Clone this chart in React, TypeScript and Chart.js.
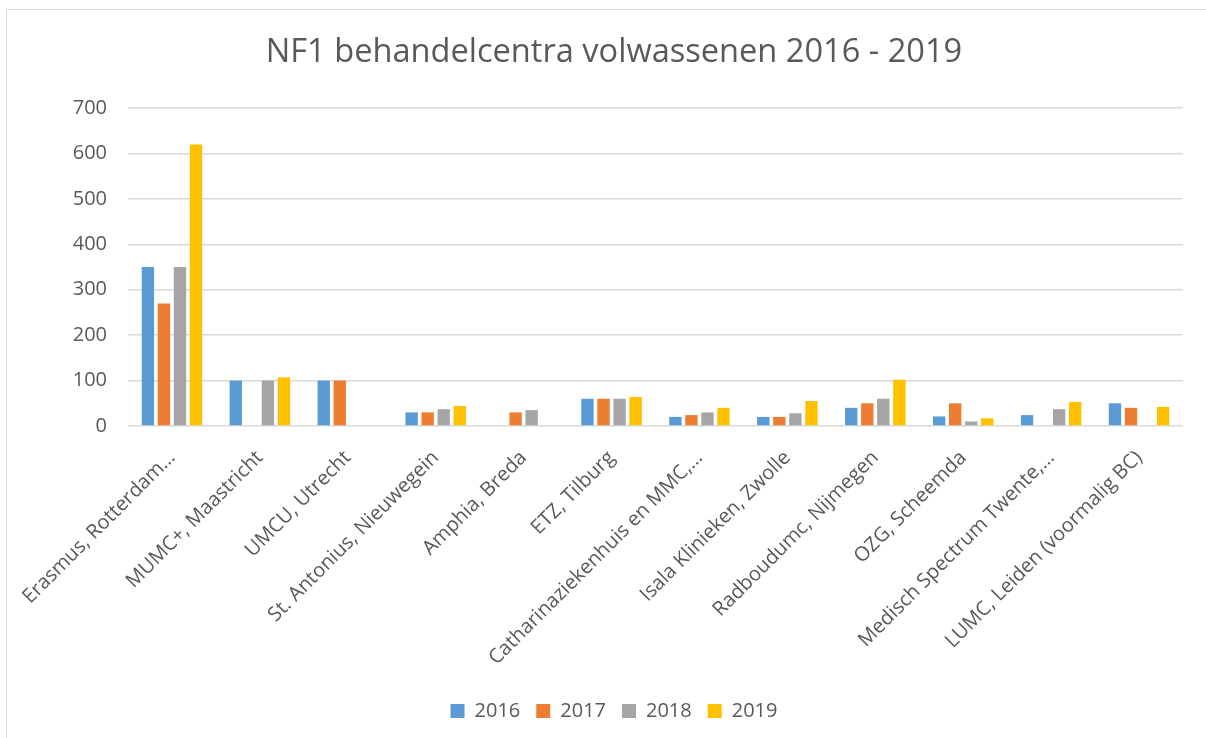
import React, { useEffect, useRef } from "react";
import { Chart, registerables } from "chart.js";

Chart.register(...registerables);

const chartTitle = "NF1 behandelcentra volwassenen 2016 - 2019";

const categories = [
  "Erasmus, Rotterdam…",
  "MUMC+, Maastricht",
  "UMCU, Utrecht",
  "St. Antonius, Nieuwegein",
  "Amphia, Breda",
  "ETZ, Tilburg",
  "Catharinaziekenhuis en MMC,…",
  "Isala Klinieken, Zwolle",
  "Radboudumc, Nijmegen",
  "OZG, Scheemda",
  "Medisch Spectrum Twente,…",
  "LUMC, Leiden (voormalig BC)",
];

const seriesNames = ["2016", "2017", "2018", "2019"];

const values2016 = [350, 100, 100, 30, null, 60, 20, 20, 40, 21, 24, 50];
const values2017 = [270, null, 100, 30, 30, 60, 24, 20, 50, 50, null, 40];
const values2018 = [350, 100, null, 37, 35, 60, 30, 28, 60, 10, 37, null];
const values2019 = [620, 107, null, 44, null, 64, 40, 55, 102, 17, 53, 42];

const seriesColors = ["#5B9BD5", "#ED7D31", "#A5A5A5", "#FFC000"];

const yTicks = [0, 100, 200, 300, 400, 500, 600, 700];

const FONT = '"Open Sans", "DejaVu Sans", sans-serif';
const TEXT = "#595959";
const GRID = "#D9D9D9";

export default function App() {
  const ref = useRef<HTMLCanvasElement | null>(null);

  useEffect(() => {
    if (!ref.current) return;
    const seriesValues = [values2016, values2017, values2018, values2019];
    const chart = new Chart(ref.current, {
      type: "bar",
      data: {
        labels: categories,
        datasets: seriesNames.map((name, i) => ({
          label: name,
          data: seriesValues[i],
          backgroundColor: seriesColors[i],
          borderWidth: 0,
          categoryPercentage: 0.73,
          barPercentage: 0.77,
        })),
      },
      options: {
        animation: false,
        responsive: false,
        maintainAspectRatio: false,
        layout: { padding: { left: 45, right: 23, top: 0, bottom: 7 } },
        plugins: {
          title: {
            display: true,
            text: chartTitle,
            color: TEXT,
            font: { family: FONT, size: 32.6, weight: "normal" },
            padding: { top: 33, bottom: 36 },
          },
          legend: {
            display: true,
            position: "bottom",
            labels: {
              color: TEXT,
              font: { family: FONT, size: 20 },
              boxWidth: 14,
              boxHeight: 14,
              padding: 16,
            },
          },
          tooltip: { enabled: false },
        },
        scales: {
          x: {
            grid: { display: false },
            border: { display: false },
            ticks: {
              color: TEXT,
              font: { family: FONT, size: 20 },
              maxRotation: 45,
              minRotation: 45,
              autoSkip: false,
              padding: 12,
            },
            afterFit: (scale: any) => {
              scale.height = 259;
            },
          },
          y: {
            min: 0,
            max: 700,
            afterBuildTicks: (scale: any) => {
              scale.ticks = yTicks.map((v) => ({ value: v }));
            },
            grid: { color: GRID, lineWidth: 1.5, drawTicks: false },
            border: { display: false },
            ticks: {
              color: TEXT,
              font: { family: FONT, size: 20 },
              padding: 21,
            },
            afterFit: (scale: any) => {
              scale.width = 83;
            },
          },
        },
      },
    });
    return () => chart.destroy();
  }, []);

  return (
    <div
      style={{
        position: "fixed",
        left: 0,
        top: 0,
        width: 1206,
        height: 738,
        background: "#ffffff",
        overflow: "hidden",
      }}
    >
      <div
        style={{
          position: "absolute",
          left: 6,
          top: 9,
          right: 0,
          bottom: 0,
          borderLeft: "1.5px solid #D9D9D9",
          borderTop: "1.5px solid #D9D9D9",
        }}
      />
      <canvas
        ref={ref}
        width={1206}
        height={738}
        style={{ position: "absolute", left: 0, top: 0, width: 1206, height: 738 }}
      />
    </div>
  );
}
